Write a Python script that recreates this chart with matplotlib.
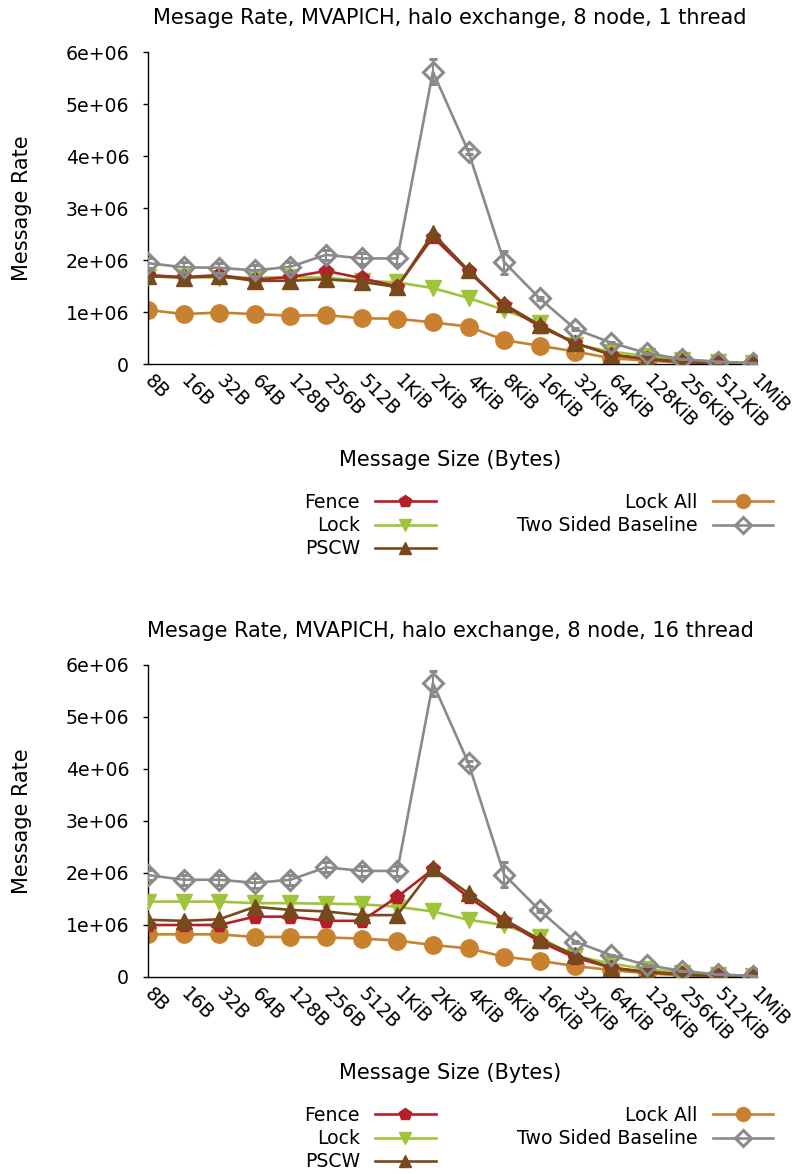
import matplotlib
matplotlib.use("Agg")
import matplotlib.pyplot as plt
import numpy as np

plt.rcParams['font.family'] = ['DejaVu Sans']

# message sizes on the x axis
sizes = ["8B", "16B", "32B", "64B", "128B", "256B", "512B", "1KiB", "2KiB", "4KiB",
         "8KiB", "16KiB", "32KiB", "64KiB", "128KiB", "256KiB", "512KiB", "1MiB"]

# 1 thread run (values in millions of messages/s)
fence_1 = [1.71, 1.67, 1.71, 1.62, 1.67, 1.79, 1.65, 1.49, 2.44, 1.78, 1.13, 0.72, 0.40, 0.18, 0.09, 0.04, 0.02, 0.01]
lock_1 = [1.68, 1.68, 1.66, 1.66, 1.67, 1.66, 1.60, 1.57, 1.46, 1.27, 1.04, 0.78, 0.37, 0.24, 0.15, 0.08, 0.04, 0.02]
pscw_1 = [1.69, 1.66, 1.69, 1.60, 1.60, 1.63, 1.58, 1.48, 2.51, 1.80, 1.15, 0.75, 0.40, 0.18, 0.10, 0.05, 0.02, 0.01]
lockall_1 = [1.04, 0.96, 0.99, 0.96, 0.93, 0.94, 0.88, 0.87, 0.80, 0.72, 0.46, 0.35, 0.24, 0.11, 0.065, 0.03, 0.015, 0.01]
twosided_1 = [1.94, 1.86, 1.85, 1.80, 1.87, 2.10, 2.03, 2.03, 5.62, 4.08, 1.96, 1.26, 0.67, 0.41, 0.21, 0.09, 0.045, 0.015]
twosided_err_1 = [0.1, 0.1, 0.1, 0.1, 0.1, 0.1, 0.1, 0.1, 0.24, 0.05, 0.22, 0.03, 0.02, 0.01, 0.01, 0.0, 0.0, 0.0]

# 16 thread run
fence_16 = [1.00, 1.00, 1.00, 1.16, 1.16, 1.08, 1.08, 1.54, 2.07, 1.53, 1.08, 0.68, 0.37, 0.18, 0.10, 0.05, 0.02, 0.01]
lock_16 = [1.45, 1.45, 1.45, 1.42, 1.42, 1.41, 1.40, 1.35, 1.26, 1.10, 1.00, 0.76, 0.40, 0.26, 0.15, 0.08, 0.04, 0.02]
pscw_16 = [1.10, 1.08, 1.11, 1.35, 1.29, 1.26, 1.19, 1.19, 2.09, 1.61, 1.11, 0.72, 0.42, 0.18, 0.09, 0.05, 0.02, 0.01]
lockall_16 = [0.82, 0.82, 0.82, 0.77, 0.77, 0.76, 0.74, 0.70, 0.615, 0.55, 0.39, 0.31, 0.21, 0.135, 0.07, 0.03, 0.015, 0.01]
twosided_16 = [1.96, 1.87, 1.87, 1.81, 1.87, 2.11, 2.04, 2.04, 5.65, 4.11, 1.97, 1.28, 0.68, 0.42, 0.23, 0.115, 0.05, 0.02]
twosided_err_16 = [0.1, 0.1, 0.1, 0.1, 0.1, 0.1, 0.1, 0.1, 0.24, 0.05, 0.24, 0.03, 0.02, 0.01, 0.01, 0.0, 0.0, 0.0]

titles = ["Mesage Rate, MVAPICH, halo exchange, 8 node, 1 thread",
          "Mesage Rate, MVAPICH, halo exchange, 8 node, 16 thread"]

colors = {"Fence": "#b3202a", "Lock": "#9fc43a", "PSCW": "#774a1c",
          "Lock All": "#c8822f", "Two Sided Baseline": "#8a8a8a"}

FS = 13.6
x = np.arange(len(sizes))

fig = plt.figure(figsize=(7.94, 11.74), dpi=100)
# axes boxes in figure fraction (left, bottom, width, height)
ax_top = fig.add_axes([148 / 794, 1 - 364 / 1174, 609 / 794, 312 / 1174])
ax_bot = fig.add_axes([148 / 794, 1 - 977 / 1174, 609 / 794, 312 / 1174])

runs = [
    (ax_top, fence_1, lock_1, pscw_1, lockall_1, twosided_1, twosided_err_1, titles[0], 1 - 493 / 1174),
    (ax_bot, fence_16, lock_16, pscw_16, lockall_16, twosided_16, twosided_err_16, titles[1], 1 - 1106 / 1174),
]

for ax, fence, lock, pscw, lockall, twosided, err, title, leg_y in runs:
    h_f, = ax.plot(x, np.array(fence) * 1e6, color=colors["Fence"], marker="p", ms=11, lw=1.9, label="Fence", zorder=4)
    h_l, = ax.plot(x, np.array(lock) * 1e6, color=colors["Lock"], marker="v", ms=11, lw=1.9, label="Lock", zorder=3)
    h_p, = ax.plot(x, np.array(pscw) * 1e6, color=colors["PSCW"], marker="^", ms=11, lw=1.9, label="PSCW", zorder=5)
    h_a, = ax.plot(x, np.array(lockall) * 1e6, color=colors["Lock All"], marker="o", ms=12.5, lw=1.9, label="Lock All", zorder=2)
    eb = ax.errorbar(x, np.array(twosided) * 1e6, yerr=np.array(err) * 1e6, color=colors["Two Sided Baseline"],
                     marker="D", ms=10, mfc="none", mec=colors["Two Sided Baseline"], mew=2.2, lw=1.9,
                     elinewidth=1.5, capsize=3, label="Two Sided Baseline", zorder=6)
    h_t = eb.lines[0]

    ax.set_xlim(0, 17.1)
    ax.set_ylim(0, 6e6)
    ax.set_yticks(np.arange(0, 7) * 1e6)
    ax.set_yticklabels(["0", "1e+06", "2e+06", "3e+06", "4e+06", "5e+06", "6e+06"], fontsize=FS)
    ax.set_xticks(x)
    ax.set_xticklabels(sizes, rotation=-45, ha="left", va="center", rotation_mode="anchor", fontsize=FS)
    ax.tick_params(axis="x", length=0, pad=10)
    ax.tick_params(axis="y", length=3.5, width=1, pad=10, direction="out")
    for s in ["top", "right"]:
        ax.spines[s].set_visible(False)
    ax.spines["left"].set_linewidth(1)
    ax.spines["bottom"].set_linewidth(1)

    ax.text(0.496, 1.109, title, transform=ax.transAxes, ha="center", va="center", fontsize=15)
    ax.text(-0.207, 0.5, "Message Rate", transform=ax.transAxes, ha="center", va="center",
            rotation=90, fontsize=15)
    ax.text(0.496, -0.3077, "Message Size (Bytes)", transform=ax.transAxes, ha="center", va="center", fontsize=15)

    fig.legend([h_f, h_l, h_p, h_a, h_t], ["Fence", "Lock", "PSCW", "Lock All", "Two Sided Baseline"],
               loc="upper right", bbox_to_anchor=(773 / 794, leg_y), ncol=2, frameon=False,
               markerfirst=False, fontsize=FS, handlelength=3.2, handletextpad=0.8,
               columnspacing=4.3, labelspacing=0.22, borderpad=0, borderaxespad=0, markerscale=0.8)

fig.savefig("out.png", dpi=100)
